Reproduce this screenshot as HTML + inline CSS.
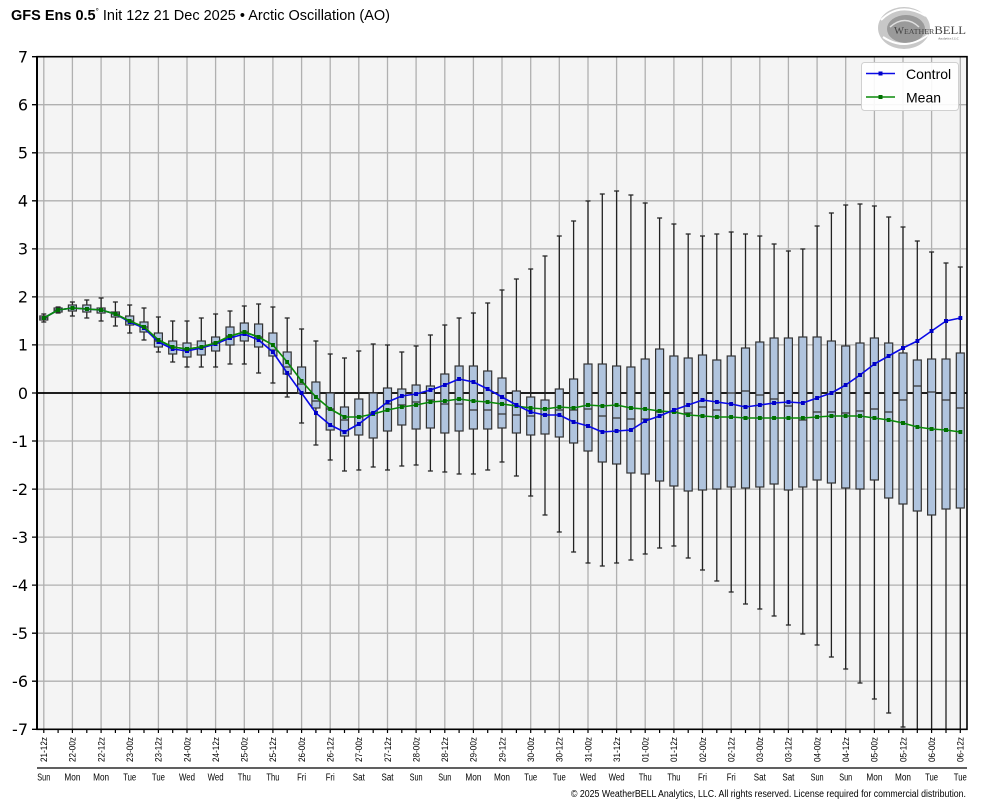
<!DOCTYPE html>
<html><head><meta charset="utf-8">
<style>
html,body{margin:0;padding:0;background:#fff;}
svg{display:block;}
.tl{font-family:"Liberation Sans",sans-serif;font-size:9.5px;fill:#000;}
.dl{font-family:"Liberation Sans",sans-serif;font-size:10px;fill:#000;text-anchor:middle;}
.yl{font-family:"DejaVu Sans","Liberation Sans",sans-serif;font-size:16px;fill:#000;text-anchor:end;}
</style></head>
<body>
<svg width="984" height="808" viewBox="0 0 984 808" xmlns="http://www.w3.org/2000/svg">
<defs>
<marker id="mb" markerWidth="4" markerHeight="4" refX="2" refY="2" markerUnits="userSpaceOnUse"><rect width="4" height="4" fill="#0000c8"/></marker>
<marker id="mg" markerWidth="4" markerHeight="4" refX="2" refY="2" markerUnits="userSpaceOnUse"><rect width="4" height="4" fill="#007000"/></marker>
</defs>

<!-- title -->
<text x="11" y="20" font-family="Liberation Sans, sans-serif" font-size="14.5" fill="#000"><tspan font-weight="bold">GFS Ens 0.5</tspan><tspan font-size="8" dy="-6">°</tspan><tspan dy="6"> Init 12z 21 Dec 2025 • Arctic Oscillation (AO)</tspan></text>

<!-- logo -->
<g>
<ellipse cx="904" cy="28" rx="26" ry="21" fill="#c8c8c8"/>
<ellipse cx="906" cy="29" rx="19" ry="14" fill="#9a9a9a"/>
<path d="M881 20 Q900 1 926 16" fill="none" stroke="#fff" stroke-width="2"/>
<path d="M883 37 Q905 52 928 35" fill="none" stroke="#fff" stroke-width="2"/>
<path d="M890 27 Q905 14 919 27" fill="none" stroke="#e0e0e0" stroke-width="1.5"/>
<text x="894" y="34" font-family="Liberation Serif, serif" font-size="10" fill="#444" textLength="72" lengthAdjust="spacingAndGlyphs">W<tspan font-size="7.5">EATHER</tspan><tspan font-size="12">BELL</tspan></text>
<text x="938" y="39.5" font-family="Liberation Serif, serif" font-size="3.5" fill="#555">Analytics LLC</text>
</g>

<!-- plot background -->
<rect x="37" y="56.7" width="930" height="672.6" fill="#f4f4f4"/>

<!-- grid -->
<path stroke="#b0b0b0" stroke-width="1.3" fill="none" d="M43.8 56.7V729.3M72.4 56.7V729.3M101.1 56.7V729.3M129.7 56.7V729.3M158.4 56.7V729.3M187 56.7V729.3M215.6 56.7V729.3M244.3 56.7V729.3M272.9 56.7V729.3M301.6 56.7V729.3M330.2 56.7V729.3M358.8 56.7V729.3M387.5 56.7V729.3M416.1 56.7V729.3M444.8 56.7V729.3M473.4 56.7V729.3M502 56.7V729.3M530.7 56.7V729.3M559.3 56.7V729.3M588 56.7V729.3M616.6 56.7V729.3M645.2 56.7V729.3M673.9 56.7V729.3M702.5 56.7V729.3M731.2 56.7V729.3M759.8 56.7V729.3M788.4 56.7V729.3M817.1 56.7V729.3M845.7 56.7V729.3M874.4 56.7V729.3M903 56.7V729.3M931.6 56.7V729.3M960.3 56.7V729.3
M37 104.7H967M37 152.8H967M37 200.8H967M37 248.9H967M37 296.9H967M37 344.9H967M37 441H967M37 489.1H967M37 537.1H967M37 585.1H967M37 633.2H967M37 681.2H967"/>

<!-- zero line -->
<path d="M37 393H967" stroke="#000" stroke-width="1.8"/>

<!-- whiskers -->
<path fill="none" stroke="#222" stroke-width="1.3" d="M43.8 314V316M43.8 320V322M41.3 314h5M41.3 322h5
M58.1 307V308M58.1 312V313M55.6 307h5M55.6 313h5
M72.4 302V305M72.4 311V316M69.9 302h5M69.9 316h5
M86.8 300V305M86.8 312V318M84.3 300h5M84.3 318h5
M101.1 298V308M101.1 313V321M98.6 298h5M98.6 321h5
M115.4 302V312M115.4 317V326M112.9 302h5M112.9 326h5
M129.7 305V316M129.7 325V333M127.2 305h5M127.2 333h5
M144 308V322M144 332V340M141.5 308h5M141.5 340h5
M158.4 317V333M158.4 347V352M155.9 317h5M155.9 352h5
M172.7 321V341M172.7 354V362M170.2 321h5M170.2 362h5
M187 321V343M187 357V367M184.5 321h5M184.5 367h5
M201.3 318V341M201.3 355V367M198.8 318h5M198.8 367h5
M215.6 314V337M215.6 351V367M213.1 314h5M213.1 367h5
M230 311V327M230 345V364M227.5 311h5M227.5 364h5
M244.3 306V323M244.3 341V364M241.8 306h5M241.8 364h5
M258.6 304V324M258.6 347V373M256.1 304h5M256.1 373h5
M272.9 307V333M272.9 356V383M270.4 307h5M270.4 383h5
M287.2 318V352M287.2 374V397M284.7 318h5M284.7 397h5
M301.6 329V367M301.6 393V423M299.1 329h5M299.1 423h5
M315.9 341V382M315.9 408V445M313.4 341h5M313.4 445h5
M330.2 354V393M330.2 430V460M327.7 354h5M327.7 460h5
M344.5 358V407M344.5 436V471M342 358h5M342 471h5
M358.8 351V399M358.8 435V470M356.3 351h5M356.3 470h5
M373.2 344V393M373.2 438V467M370.7 344h5M370.7 467h5
M387.5 345V388M387.5 431V470M385 345h5M385 470h5
M401.8 352V389M401.8 425V466M399.3 352h5M399.3 466h5
M416.1 346V385M416.1 429V465M413.6 346h5M413.6 465h5
M430.4 335V386M430.4 428V471M427.9 335h5M427.9 471h5
M444.8 325V374M444.8 433V472M442.3 325h5M442.3 472h5
M459.1 318V366M459.1 431V474M456.6 318h5M456.6 474h5
M473.4 313V366M473.4 429V474M470.9 313h5M470.9 474h5
M487.7 303V371M487.7 429V470M485.2 303h5M485.2 470h5
M502 290V378M502 428V462M499.5 290h5M499.5 462h5
M516.4 279V391M516.4 433V476M513.9 279h5M513.9 476h5
M530.7 269V397M530.7 435V496M528.2 269h5M528.2 496h5
M545 256V400M545 434V515M542.5 256h5M542.5 515h5
M559.3 236V389M559.3 437V532M556.8 236h5M556.8 532h5
M573.6 221V379M573.6 443V552M571.1 221h5M571.1 552h5
M588 201V364M588 451V563M585.5 201h5M585.5 563h5
M602.3 194V364M602.3 462V566M599.8 194h5M599.8 566h5
M616.6 191V366M616.6 464V563M614.1 191h5M614.1 563h5
M630.9 195V367M630.9 473V560M628.4 195h5M628.4 560h5
M645.2 203V359M645.2 474V554M642.7 203h5M642.7 554h5
M659.6 218V349M659.6 481V548M657.1 218h5M657.1 548h5
M673.9 224V356M673.9 486V546M671.4 224h5M671.4 546h5
M688.2 234V358M688.2 491V558M685.7 234h5M685.7 558h5
M702.5 236V355M702.5 490V570M700 236h5M700 570h5
M716.8 234V360M716.8 489V581M714.3 234h5M714.3 581h5
M731.2 232V356M731.2 487V592M728.7 232h5M728.7 592h5
M745.5 234V348M745.5 488V604M743 234h5M743 604h5
M759.8 236V342M759.8 487V609M757.3 236h5M757.3 609h5
M774.1 244V338M774.1 484V616M771.6 244h5M771.6 616h5
M788.4 251V338M788.4 490V625M785.9 251h5M785.9 625h5
M802.8 249V337M802.8 487V634M800.3 249h5M800.3 634h5
M817.1 226V337M817.1 480V645M814.6 226h5M814.6 645h5
M831.4 213V341M831.4 483V657M828.9 213h5M828.9 657h5
M845.7 205V346M845.7 488V669M843.2 205h5M843.2 669h5
M860 204V343M860 489V683M857.5 204h5M857.5 683h5
M874.4 206V338M874.4 480V699M871.9 206h5M871.9 699h5
M888.7 217V343M888.7 498V713M886.2 217h5M886.2 713h5
M903 227V353M903 504V727M900.5 227h5M900.5 727h5
M917.3 241V360M917.3 511V729M914.8 241h5
M931.6 252V359M931.6 515V729M929.1 252h5
M946 263V359M946 509V729M943.5 263h5
M960.3 267V353M960.3 508V729M957.8 267h5"/>

<!-- boxes -->
<g fill="#b0c4de" stroke="#333" stroke-width="1.2">
<rect x="39.8" y="316" width="8" height="4"/>
<rect x="54.1" y="308" width="8" height="4"/>
<rect x="68.4" y="305" width="8" height="6"/>
<rect x="82.8" y="305" width="8" height="7"/>
<rect x="97.1" y="308" width="8" height="5"/>
<rect x="111.4" y="312" width="8" height="5"/>
<rect x="125.7" y="316" width="8" height="9"/>
<rect x="140" y="322" width="8" height="10"/>
<rect x="154.4" y="333" width="8" height="14"/>
<rect x="168.7" y="341" width="8" height="13"/>
<rect x="183" y="343" width="8" height="14"/>
<rect x="197.3" y="341" width="8" height="14"/>
<rect x="211.6" y="337" width="8" height="14"/>
<rect x="226" y="327" width="8" height="18"/>
<rect x="240.3" y="323" width="8" height="18"/>
<rect x="254.6" y="324" width="8" height="23"/>
<rect x="268.9" y="333" width="8" height="23"/>
<rect x="283.2" y="352" width="8" height="22"/>
<rect x="297.6" y="367" width="8" height="26"/>
<rect x="311.9" y="382" width="8" height="26"/>
<rect x="326.2" y="393" width="8" height="37"/>
<rect x="340.5" y="407" width="8" height="29"/>
<rect x="354.8" y="399" width="8" height="36"/>
<rect x="369.2" y="393" width="8" height="45"/>
<rect x="383.5" y="388" width="8" height="43"/>
<rect x="397.8" y="389" width="8" height="36"/>
<rect x="412.1" y="385" width="8" height="44"/>
<rect x="426.4" y="386" width="8" height="42"/>
<rect x="440.8" y="374" width="8" height="59"/>
<rect x="455.1" y="366" width="8" height="65"/>
<rect x="469.4" y="366" width="8" height="63"/>
<rect x="483.7" y="371" width="8" height="58"/>
<rect x="498" y="378" width="8" height="50"/>
<rect x="512.4" y="391" width="8" height="42"/>
<rect x="526.7" y="397" width="8" height="38"/>
<rect x="541" y="400" width="8" height="34"/>
<rect x="555.3" y="389" width="8" height="48"/>
<rect x="569.6" y="379" width="8" height="64"/>
<rect x="584" y="364" width="8" height="87"/>
<rect x="598.3" y="364" width="8" height="98"/>
<rect x="612.6" y="366" width="8" height="98"/>
<rect x="626.9" y="367" width="8" height="106"/>
<rect x="641.2" y="359" width="8" height="115"/>
<rect x="655.6" y="349" width="8" height="132"/>
<rect x="669.9" y="356" width="8" height="130"/>
<rect x="684.2" y="358" width="8" height="133"/>
<rect x="698.5" y="355" width="8" height="135"/>
<rect x="712.8" y="360" width="8" height="129"/>
<rect x="727.2" y="356" width="8" height="131"/>
<rect x="741.5" y="348" width="8" height="140"/>
<rect x="755.8" y="342" width="8" height="145"/>
<rect x="770.1" y="338" width="8" height="146"/>
<rect x="784.4" y="338" width="8" height="152"/>
<rect x="798.8" y="337" width="8" height="150"/>
<rect x="813.1" y="337" width="8" height="143"/>
<rect x="827.4" y="341" width="8" height="142"/>
<rect x="841.7" y="346" width="8" height="142"/>
<rect x="856" y="343" width="8" height="146"/>
<rect x="870.4" y="338" width="8" height="142"/>
<rect x="884.7" y="343" width="8" height="155"/>
<rect x="899" y="353" width="8" height="151"/>
<rect x="913.3" y="360" width="8" height="151"/>
<rect x="927.6" y="359" width="8" height="156"/>
<rect x="942" y="359" width="8" height="150"/>
<rect x="956.3" y="353" width="8" height="155"/>
</g>

<!-- medians -->
<path fill="none" stroke="#333" stroke-width="1.2" d="M39.8 318h8M54.1 310h8M68.4 308h8M82.8 309h8M97.1 310h8M111.4 314h8M125.7 321h8M140 327h8M154.4 341h8M168.7 347h8M183 350h8M197.3 347h8M211.6 343h8M226 336h8M240.3 332h8M254.6 337h8M268.9 350h8M283.2 367h8M297.6 384h8M311.9 401h8M326.2 409h8M340.5 420h8M354.8 417h8M369.2 413h8M383.5 404h8M397.8 405h8M412.1 402h8M426.4 400h8M440.8 404h8M455.1 404h8M469.4 410h8M483.7 410h8M498 414h8M512.4 415h8M526.7 416h8M541 415h8M555.3 410h8M569.6 410h8M584 409h8M598.3 416h8M612.6 418h8M626.9 419h8M641.2 419h8M655.6 412h8M669.9 412h8M684.2 413h8M698.5 407h8M712.8 410h8M727.2 393h8M741.5 391h8M755.8 395h8M770.1 399h8M784.4 406h8M798.8 420h8M813.1 412h8M827.4 412h8M841.7 413h8M856 411h8M870.4 409h8M884.7 412h8M899 400h8M913.3 386h8M927.6 392h8M942 400h8M956.3 408h8"/>

<!-- mean line -->
<polyline fill="none" stroke="#0a8a0a" stroke-width="1.6" stroke-linejoin="round" marker-start="url(#mg)" marker-mid="url(#mg)" marker-end="url(#mg)" points="43.8,318 58.1,310 72.4,308 86.8,309 101.1,310 115.4,314 129.7,321 144,327 158.4,340 172.7,347 187,349 201.3,347 215.6,343 230,336 244.3,332 258.6,337 272.9,345 287.2,362 301.6,381 315.9,397 330.2,409 344.5,417 358.8,417 373.2,414 387.5,410 401.8,407 416.1,405 430.4,402 444.8,401 459.1,399 473.4,401 487.7,402 502,404 516.4,406 530.7,408 545,409 559.3,407 573.6,408 588,405 602.3,406 616.6,405 630.9,408 645.2,409 659.6,411 673.9,412 688.2,415 702.5,416 716.8,417 731.2,417 745.5,418 759.8,418 774.1,418 788.4,418 802.8,418 817.1,417 831.4,416 845.7,416 860,416 874.4,418 888.7,420 903,423 917.3,427 931.6,429 946,430 960.3,432"/>

<!-- control line -->
<polyline fill="none" stroke="#0a0ae6" stroke-width="1.6" stroke-linejoin="round" marker-start="url(#mb)" marker-mid="url(#mb)" marker-end="url(#mb)" points="43.8,318 58.1,310 72.4,308 86.8,309 101.1,310 115.4,314 129.7,322 144,328 158.4,342 172.7,349 187,351 201.3,348 215.6,344 230,338 244.3,334 258.6,340 272.9,352 287.2,373 301.6,393 315.9,413 330.2,425 344.5,432 358.8,424 373.2,413 387.5,402 401.8,396 416.1,394 430.4,390 444.8,385 459.1,379 473.4,382 487.7,389 502,397 516.4,405 530.7,412 545,415 559.3,415 573.6,422 588,426 602.3,432 616.6,431 630.9,430 645.2,421 659.6,416 673.9,410 688.2,405 702.5,400 716.8,402 731.2,404 745.5,407 759.8,405 774.1,403 788.4,402 802.8,403 817.1,398 831.4,393 845.7,385 860,375 874.4,364 888.7,356 903,348 917.3,341 931.6,331 946,321 960.3,318"/>

<!-- mean line redraw on top where overlapping early -->
<polyline fill="none" stroke="#0a8a0a" stroke-width="1.6" stroke-linejoin="round" marker-start="url(#mg)" marker-mid="url(#mg)" marker-end="url(#mg)" points="43.8,318 58.1,310 72.4,308 86.8,309 101.1,310 115.4,314 129.7,321 144,327 158.4,340 172.7,347 187,349 201.3,347 215.6,343 230,336 244.3,332 258.6,337"/>

<!-- axes frame -->
<path d="M37 56.7H967V729.3H37Z" fill="none" stroke="#000" stroke-width="1.6"/>
<path d="M37 56V730" stroke="#000" stroke-width="2"/>

<!-- y ticks -->
<path stroke="#000" stroke-width="1.3" d="M32 56.7H37M32 104.7H37M32 152.8H37M32 200.8H37M32 248.9H37M32 296.9H37M32 344.9H37M32 393H37M32 441H37M32 489.1H37M32 537.1H37M32 585.1H37M32 633.2H37M32 681.2H37M32 729.3H37"/>

<!-- y labels -->
<g class="yl">
<text x="28" y="62.5">7</text>
<text x="28" y="110.5">6</text>
<text x="28" y="158.6">5</text>
<text x="28" y="206.6">4</text>
<text x="28" y="254.7">3</text>
<text x="28" y="302.7">2</text>
<text x="28" y="350.7">1</text>
<text x="28" y="398.8">0</text>
<text x="28" y="446.8">-1</text>
<text x="28" y="494.9">-2</text>
<text x="28" y="542.9">-3</text>
<text x="28" y="590.9">-4</text>
<text x="28" y="639">-5</text>
<text x="28" y="687">-6</text>
<text x="28" y="735.1">-7</text>
</g>

<!-- x ticks -->
<path stroke="#000" stroke-width="1.2" d="M43.8 729V733M58.1 729V733M72.4 729V733M86.8 729V733M101.1 729V733M115.4 729V733M129.7 729V733M144 729V733M158.4 729V733M172.7 729V733M187 729V733M201.3 729V733M215.6 729V733M230 729V733M244.3 729V733M258.6 729V733M272.9 729V733M287.2 729V733M301.6 729V733M315.9 729V733M330.2 729V733M344.5 729V733M358.8 729V733M373.2 729V733M387.5 729V733M401.8 729V733M416.1 729V733M430.4 729V733M444.8 729V733M459.1 729V733M473.4 729V733M487.7 729V733M502 729V733M516.4 729V733M530.7 729V733M545 729V733M559.3 729V733M573.6 729V733M588 729V733M602.3 729V733M616.6 729V733M630.9 729V733M645.2 729V733M659.6 729V733M673.9 729V733M688.2 729V733M702.5 729V733M716.8 729V733M731.2 729V733M745.5 729V733M759.8 729V733M774.1 729V733M788.4 729V733M802.8 729V733M817.1 729V733M831.4 729V733M845.7 729V733M860 729V733M874.4 729V733M888.7 729V733M903 729V733M917.3 729V733M931.6 729V733M946 729V733M960.3 729V733"/>

<!-- rotated x labels -->
<g class="tl" text-anchor="end">
<text transform="translate(47.1,737) rotate(-90)" textLength="25" lengthAdjust="spacingAndGlyphs">21-12z</text>
<text transform="translate(75.7,737) rotate(-90)" textLength="25" lengthAdjust="spacingAndGlyphs">22-00z</text>
<text transform="translate(104.4,737) rotate(-90)" textLength="25" lengthAdjust="spacingAndGlyphs">22-12z</text>
<text transform="translate(133,737) rotate(-90)" textLength="25" lengthAdjust="spacingAndGlyphs">23-00z</text>
<text transform="translate(161.7,737) rotate(-90)" textLength="25" lengthAdjust="spacingAndGlyphs">23-12z</text>
<text transform="translate(190.3,737) rotate(-90)" textLength="25" lengthAdjust="spacingAndGlyphs">24-00z</text>
<text transform="translate(218.9,737) rotate(-90)" textLength="25" lengthAdjust="spacingAndGlyphs">24-12z</text>
<text transform="translate(247.6,737) rotate(-90)" textLength="25" lengthAdjust="spacingAndGlyphs">25-00z</text>
<text transform="translate(276.2,737) rotate(-90)" textLength="25" lengthAdjust="spacingAndGlyphs">25-12z</text>
<text transform="translate(304.9,737) rotate(-90)" textLength="25" lengthAdjust="spacingAndGlyphs">26-00z</text>
<text transform="translate(333.5,737) rotate(-90)" textLength="25" lengthAdjust="spacingAndGlyphs">26-12z</text>
<text transform="translate(362.1,737) rotate(-90)" textLength="25" lengthAdjust="spacingAndGlyphs">27-00z</text>
<text transform="translate(390.8,737) rotate(-90)" textLength="25" lengthAdjust="spacingAndGlyphs">27-12z</text>
<text transform="translate(419.4,737) rotate(-90)" textLength="25" lengthAdjust="spacingAndGlyphs">28-00z</text>
<text transform="translate(448.1,737) rotate(-90)" textLength="25" lengthAdjust="spacingAndGlyphs">28-12z</text>
<text transform="translate(476.7,737) rotate(-90)" textLength="25" lengthAdjust="spacingAndGlyphs">29-00z</text>
<text transform="translate(505.3,737) rotate(-90)" textLength="25" lengthAdjust="spacingAndGlyphs">29-12z</text>
<text transform="translate(534,737) rotate(-90)" textLength="25" lengthAdjust="spacingAndGlyphs">30-00z</text>
<text transform="translate(562.6,737) rotate(-90)" textLength="25" lengthAdjust="spacingAndGlyphs">30-12z</text>
<text transform="translate(591.3,737) rotate(-90)" textLength="25" lengthAdjust="spacingAndGlyphs">31-00z</text>
<text transform="translate(619.9,737) rotate(-90)" textLength="25" lengthAdjust="spacingAndGlyphs">31-12z</text>
<text transform="translate(648.5,737) rotate(-90)" textLength="25" lengthAdjust="spacingAndGlyphs">01-00z</text>
<text transform="translate(677.2,737) rotate(-90)" textLength="25" lengthAdjust="spacingAndGlyphs">01-12z</text>
<text transform="translate(705.8,737) rotate(-90)" textLength="25" lengthAdjust="spacingAndGlyphs">02-00z</text>
<text transform="translate(734.5,737) rotate(-90)" textLength="25" lengthAdjust="spacingAndGlyphs">02-12z</text>
<text transform="translate(763.1,737) rotate(-90)" textLength="25" lengthAdjust="spacingAndGlyphs">03-00z</text>
<text transform="translate(791.7,737) rotate(-90)" textLength="25" lengthAdjust="spacingAndGlyphs">03-12z</text>
<text transform="translate(820.4,737) rotate(-90)" textLength="25" lengthAdjust="spacingAndGlyphs">04-00z</text>
<text transform="translate(849,737) rotate(-90)" textLength="25" lengthAdjust="spacingAndGlyphs">04-12z</text>
<text transform="translate(877.7,737) rotate(-90)" textLength="25" lengthAdjust="spacingAndGlyphs">05-00z</text>
<text transform="translate(906.3,737) rotate(-90)" textLength="25" lengthAdjust="spacingAndGlyphs">05-12z</text>
<text transform="translate(934.9,737) rotate(-90)" textLength="25" lengthAdjust="spacingAndGlyphs">06-00z</text>
<text transform="translate(963.6,737) rotate(-90)" textLength="25" lengthAdjust="spacingAndGlyphs">06-12z</text>
</g>

<!-- separator -->
<path d="M37 768H967" stroke="#000" stroke-width="1.3"/>

<!-- day labels -->
<g class="dl">
<text x="43.8" y="780.5" textLength="13" lengthAdjust="spacingAndGlyphs">Sun</text>
<text x="72.4" y="780.5" textLength="16" lengthAdjust="spacingAndGlyphs">Mon</text>
<text x="101.1" y="780.5" textLength="16" lengthAdjust="spacingAndGlyphs">Mon</text>
<text x="129.7" y="780.5" textLength="13" lengthAdjust="spacingAndGlyphs">Tue</text>
<text x="158.4" y="780.5" textLength="13" lengthAdjust="spacingAndGlyphs">Tue</text>
<text x="187" y="780.5" textLength="16" lengthAdjust="spacingAndGlyphs">Wed</text>
<text x="215.6" y="780.5" textLength="16" lengthAdjust="spacingAndGlyphs">Wed</text>
<text x="244.3" y="780.5" textLength="13" lengthAdjust="spacingAndGlyphs">Thu</text>
<text x="272.9" y="780.5" textLength="13" lengthAdjust="spacingAndGlyphs">Thu</text>
<text x="301.6" y="780.5" textLength="9" lengthAdjust="spacingAndGlyphs">Fri</text>
<text x="330.2" y="780.5" textLength="9" lengthAdjust="spacingAndGlyphs">Fri</text>
<text x="358.8" y="780.5" textLength="12" lengthAdjust="spacingAndGlyphs">Sat</text>
<text x="387.5" y="780.5" textLength="12" lengthAdjust="spacingAndGlyphs">Sat</text>
<text x="416.1" y="780.5" textLength="13" lengthAdjust="spacingAndGlyphs">Sun</text>
<text x="444.8" y="780.5" textLength="13" lengthAdjust="spacingAndGlyphs">Sun</text>
<text x="473.4" y="780.5" textLength="16" lengthAdjust="spacingAndGlyphs">Mon</text>
<text x="502" y="780.5" textLength="16" lengthAdjust="spacingAndGlyphs">Mon</text>
<text x="530.7" y="780.5" textLength="13" lengthAdjust="spacingAndGlyphs">Tue</text>
<text x="559.3" y="780.5" textLength="13" lengthAdjust="spacingAndGlyphs">Tue</text>
<text x="588" y="780.5" textLength="16" lengthAdjust="spacingAndGlyphs">Wed</text>
<text x="616.6" y="780.5" textLength="16" lengthAdjust="spacingAndGlyphs">Wed</text>
<text x="645.2" y="780.5" textLength="13" lengthAdjust="spacingAndGlyphs">Thu</text>
<text x="673.9" y="780.5" textLength="13" lengthAdjust="spacingAndGlyphs">Thu</text>
<text x="702.5" y="780.5" textLength="9" lengthAdjust="spacingAndGlyphs">Fri</text>
<text x="731.2" y="780.5" textLength="9" lengthAdjust="spacingAndGlyphs">Fri</text>
<text x="759.8" y="780.5" textLength="12" lengthAdjust="spacingAndGlyphs">Sat</text>
<text x="788.4" y="780.5" textLength="12" lengthAdjust="spacingAndGlyphs">Sat</text>
<text x="817.1" y="780.5" textLength="13" lengthAdjust="spacingAndGlyphs">Sun</text>
<text x="845.7" y="780.5" textLength="13" lengthAdjust="spacingAndGlyphs">Sun</text>
<text x="874.4" y="780.5" textLength="16" lengthAdjust="spacingAndGlyphs">Mon</text>
<text x="903" y="780.5" textLength="16" lengthAdjust="spacingAndGlyphs">Mon</text>
<text x="931.6" y="780.5" textLength="13" lengthAdjust="spacingAndGlyphs">Tue</text>
<text x="960.3" y="780.5" textLength="13" lengthAdjust="spacingAndGlyphs">Tue</text>
</g>

<!-- copyright -->
<text x="966" y="797" text-anchor="end" font-family="Liberation Sans, sans-serif" font-size="10" fill="#000" textLength="395" lengthAdjust="spacingAndGlyphs">© 2025 WeatherBELL Analytics, LLC. All rights reserved. License required for commercial distribution.</text>

<!-- legend -->
<rect x="861.5" y="62.5" width="97" height="48" rx="3" fill="#fff" fill-opacity="0.9" stroke="#d0d0d0" stroke-width="1"/>
<path d="M866 73.5H895" stroke="#0a0ae6" stroke-width="1.6"/>
<rect x="878.5" y="71.5" width="4" height="4" fill="#0000c8"/>
<path d="M866 97H895" stroke="#0a8a0a" stroke-width="1.6"/>
<rect x="878.5" y="95" width="4" height="4" fill="#007000"/>
<text x="906" y="79" font-family="Liberation Sans, sans-serif" font-size="14" fill="#000">Control</text>
<text x="906" y="102.5" font-family="Liberation Sans, sans-serif" font-size="14" fill="#000">Mean</text>
</svg>
</body></html>
